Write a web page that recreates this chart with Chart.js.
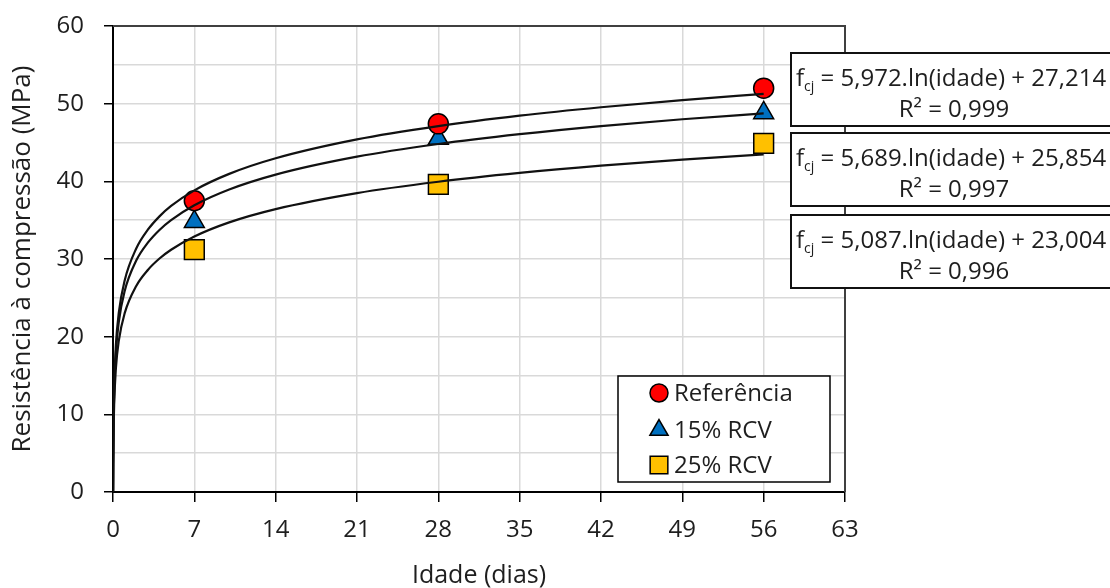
<!DOCTYPE html>
<html>
<head>
<meta charset="utf-8">
<script src="https://cdn.jsdelivr.net/npm/chart.js@4"></script>
<style>
  html, body { margin: 0; padding: 0; background: #fff; }
  #wrap { width: 1110px; height: 588px; position: relative; }
</style>
</head>
<body>
<div id="wrap"><canvas id="grafico"></canvas></div>
<script>
// dados medidos
const idades = [7, 28, 56];
const referencia = [37.5, 47.4, 52.0];
const rcv15 = [34.8, 45.5, 48.8];
const rcv25 = [31.2, 39.6, 44.9];

// linhas de tendencia
const idadesTend = [0.01, 0.02, 0.05, 0.1, 0.25, 0.5, 1, 2, 3, 4, 5, 7, 10, 14, 21, 28, 35, 42, 49, 56];
const tendRef = [0.0, 3.85, 9.32, 13.46, 18.94, 23.08, 27.21, 31.35, 33.77, 35.49, 36.83, 38.84, 40.96, 42.97, 45.40, 47.11, 48.45, 49.54, 50.46, 51.25];
const tend15 = [0.0, 3.60, 8.81, 12.75, 17.97, 21.91, 25.85, 29.80, 32.10, 33.74, 35.01, 36.92, 38.95, 40.87, 43.18, 44.81, 46.08, 47.12, 47.99, 48.75];
const tend25 = [0.0, 3.10, 7.76, 11.29, 15.95, 19.48, 23.00, 26.53, 28.59, 30.06, 31.19, 32.90, 34.72, 36.43, 38.49, 39.95, 41.09, 42.02, 42.80, 43.48];

const nomes = ["Referência", "15% RCV", "25% RCV"];
const equacoes = [
  ["5,972.ln(idade) + 27,214", "R² = 0,999"],
  ["5,689.ln(idade) + 25,854", "R² = 0,997"],
  ["5,087.ln(idade) + 23,004", "R² = 0,996"]
];

const cores = ["#FF0000", "#0070C0", "#FFC000"];
const formas = ["circle", "triangle", "rect"];
const raios = [10, 11.5, 14];
const fonte = "'Open Sans', sans-serif";
const corTexto = "#1e1e1e";

function pontos(xs, ys) {
  return xs.map((x, i) => ({ x: x, y: ys[i] }));
}

function tendencia(ys) {
  return {
    type: "line",
    data: pontos(idadesTend, ys),
    borderColor: "#111",
    borderWidth: 2.2,
    pointRadius: 0,
    cubicInterpolationMode: "monotone",
    fill: false,
    order: 0
  };
}

function serie(i, ys) {
  return {
    type: "scatter",
    label: nomes[i],
    data: pontos(idades, ys),
    pointStyle: formas[i],
    pointRadius: raios[i],
    pointHoverRadius: raios[i],
    backgroundColor: cores[i],
    borderColor: "#000",
    pointBorderWidth: 1.5,
    order: 1
  };
}

// desenha marcador simples
function marcador(ctx, forma, x, y, r, cor) {
  ctx.save();
  ctx.fillStyle = cor;
  ctx.strokeStyle = "#000";
  ctx.lineWidth = 1.5;
  ctx.beginPath();
  if (forma === "circle") {
    ctx.arc(x, y, r, 0, Math.PI * 2);
  } else if (forma === "triangle") {
    ctx.moveTo(x, y - r);
    ctx.lineTo(x + r * 0.866, y + r * 0.5);
    ctx.lineTo(x - r * 0.866, y + r * 0.5);
    ctx.closePath();
  } else {
    const s = r * Math.SQRT1_2;
    ctx.rect(x - s, y - s, 2 * s, 2 * s);
  }
  ctx.fill();
  ctx.stroke();
  ctx.restore();
}

// moldura, legenda e caixas das equacoes
const extras = {
  id: "extras",
  beforeDatasetsDraw(chart) {
    const a = chart.chartArea;
    const ctx = chart.ctx;
    ctx.save();
    ctx.strokeStyle = "#404040";
    ctx.lineWidth = 2;
    ctx.beginPath();
    ctx.moveTo(a.left, a.top);
    ctx.lineTo(a.right, a.top);
    ctx.lineTo(a.right, a.bottom);
    ctx.stroke();
    ctx.restore();
  },
  afterDraw(chart) {
    const ctx = chart.ctx;
    ctx.save();

    // legenda
    ctx.fillStyle = "#fff";
    ctx.strokeStyle = "#000";
    ctx.lineWidth = 1.5;
    ctx.fillRect(618, 376, 212, 106);
    ctx.strokeRect(618, 376, 212, 106);
    const linhas = [393, 430, 465];
    ctx.font = "24px " + fonte;
    ctx.textBaseline = "middle";
    nomes.forEach((n, i) => {
      marcador(ctx, formas[i], 659, linhas[i], [9, 10.5, 12.5][i], cores[i]);
      ctx.fillStyle = corTexto;
      ctx.textAlign = "left";
      ctx.fillText(n, 674, linhas[i] + 1);
    });

    // equacoes
    const topos = [53, 133, 215];
    equacoes.forEach((eq, i) => {
      const t = topos[i];
      ctx.fillStyle = "#fff";
      ctx.strokeStyle = "#111";
      ctx.lineWidth = 2;
      ctx.fillRect(791, t, 330, 73);
      ctx.strokeRect(791, t, 330, 73);
      ctx.fillStyle = corTexto;
      ctx.textAlign = "left";
      ctx.textBaseline = "alphabetic";
      let x = 796;
      const y1 = t + 33;
      ctx.font = "24px " + fonte;
      ctx.fillText("f", x, y1);
      x += ctx.measureText("f").width;
      ctx.font = "14px " + fonte;
      ctx.fillText("cj", x, y1 + 5);
      x += ctx.measureText("cj").width;
      ctx.font = "24px " + fonte;
      ctx.fillText(" = " + eq[0], x, y1);
      ctx.textAlign = "center";
      ctx.fillText(eq[1], 954, t + 64);
    });
    ctx.restore();
  }
};

new Chart(document.getElementById("grafico"), {
  data: {
    datasets: [
      tendencia(tendRef),
      tendencia(tend15),
      tendencia(tend25),
      serie(0, referencia),
      serie(1, rcv15),
      serie(2, rcv25)
    ]
  },
  options: {
    responsive: true,
    maintainAspectRatio: false,
    animation: false,
    layout: { padding: { top: 26, right: 265, left: 0, bottom: 0 } },
    plugins: {
      legend: { display: false },
      tooltip: { enabled: false }
    },
    scales: {
      x: {
        type: "linear",
        min: 0,
        max: 63,
        ticks: {
          stepSize: 7,
          padding: 14,
          color: corTexto,
          font: { family: fonte, size: 24 }
        },
        grid: {
          color: "#d9d9d9",
          lineWidth: 1.5,
          tickColor: "#000",
          tickLength: 10
        },
        border: { color: "#000", width: 2 },
        title: {
          display: true,
          text: "Idade (dias)",
          color: corTexto,
          font: { family: fonte, size: 25, lineHeight: 1 },
          padding: 0
        },
        afterFit(s) { s.height = 96; s.paddingLeft = 0; s.paddingRight = 0; }
      },
      y: {
        min: 0,
        max: 60,
        ticks: {
          stepSize: 5,
          padding: 20,
          color: corTexto,
          font: { family: fonte, size: 24 },
          callback: (v) => (v % 10 === 0 ? v : "")
        },
        grid: {
          color: "#d9d9d9",
          lineWidth: 1.5,
          tickColor: (c) => (c.tick && c.tick.value % 10 === 0 ? "#000" : "rgba(0,0,0,0)"),
          tickLength: 9
        },
        border: { color: "#000", width: 2 },
        title: {
          display: true,
          text: "Resistência à compressão (MPa)",
          color: corTexto,
          font: { family: fonte, size: 26, lineHeight: 1.2 },
          padding: { top: 7, bottom: 0 }
        },
        afterFit(s) { s.width = 113; s.paddingTop = 0; s.paddingBottom = 0; }
      }
    }
  },
  plugins: [extras]
});
</script>
</body>
</html>
